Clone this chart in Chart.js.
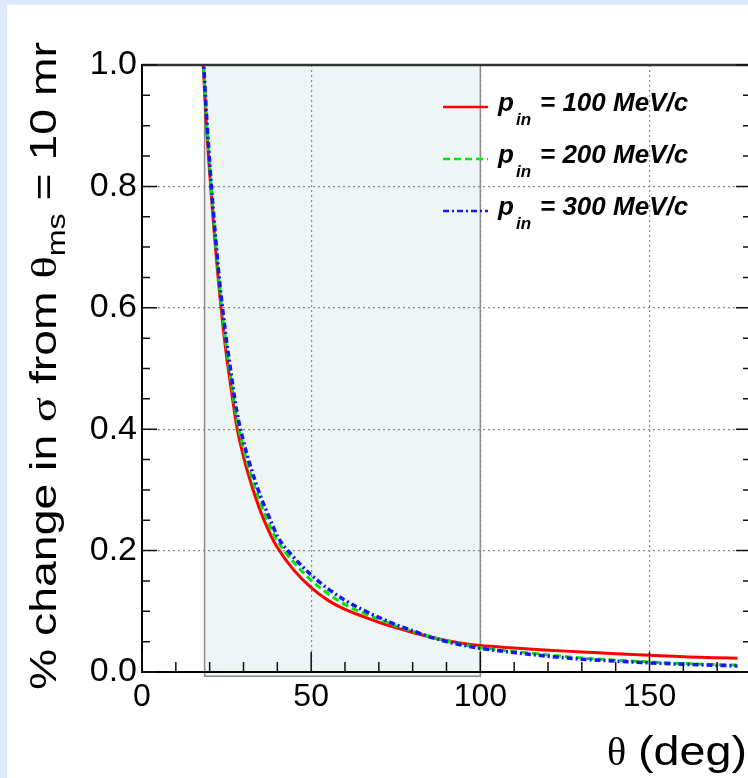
<!DOCTYPE html>
<html><head><meta charset="utf-8">
<script src="https://cdn.jsdelivr.net/npm/chart.js@4.4.0/dist/chart.umd.min.js"></script>
<style>
html,body{margin:0;padding:0;overflow:hidden;background:#dceafb;width:748px;height:778px;}
#panel{position:absolute;left:7px;top:5px;width:760px;height:800px;background:#fff;}
#wrap{position:absolute;left:0;top:0;width:760px;height:778px;}
</style></head><body>
<div id="panel"></div>
<div id="wrap"><canvas id="c" width="760" height="778"></canvas></div>
<script>
// ---- data ----
const theta = [17,18,19,20,21,22,23,24,25,26,28,30,32,35,38,40,45,50,55,60,65,70,75,80,85,90,95,100,110,120,130,140,150,160,170,176];
const sigma100 = [1.12,1.01,0.905,0.823,0.748,0.68,0.62,0.566,0.52,0.48,0.405,0.355,0.315,0.265,0.226,0.205,0.167,0.139,0.118,0.103,0.092,0.082,0.073,0.065,0.058,0.052,0.047,0.0435,0.0395,0.036,0.033,0.030,0.0275,0.025,0.0236,0.0228];
const sigma200 = [1.14,1.02,0.918,0.832,0.757,0.69,0.63,0.578,0.533,0.493,0.418,0.368,0.328,0.278,0.238,0.216,0.18,0.151,0.129,0.111,0.098,0.087,0.076,0.067,0.059,0.051,0.045,0.040,0.034,0.028,0.023,0.0195,0.0165,0.014,0.0122,0.0113];
const sigma300 = [1.15,1.03,0.925,0.84,0.765,0.70,0.64,0.59,0.545,0.505,0.43,0.38,0.34,0.29,0.25,0.224,0.188,0.16,0.137,0.118,0.103,0.090,0.078,0.068,0.058,0.050,0.044,0.039,0.032,0.026,0.021,0.018,0.015,0.0127,0.011,0.010];
const momenta = ['100','200','300'];
const xTicks = [0,50,100,150];
const yTicks = [0,0.2,0.4,0.6,0.8,1.0];
const yTickLabels = ['0.0','0.2','0.4','0.6','0.8','1.0'];
const xMinorStep = 10;
const yMinorStep = 0.05;
const acceptance = [18.5, 100];   // shaded theta range
const acceptanceLow = -0.007;

const SANS = "'Liberation Sans', Arial, Helvetica, sans-serif";
const SERIF = "'Liberation Serif', 'DejaVu Serif', serif";

function pts(arr){ return theta.map((t,i)=>({x:t,y:arr[i]})); }

function drawRich(ctx, pieces, x, y){
  let cx = x;
  for (const p of pieces){
    ctx.font = p.font;
    ctx.fillText(p.text, cx, y + (p.dy||0));
    cx += ctx.measureText(p.text).width + (p.gap||0);
  }
  return cx - x;
}
function measureRich(ctx, pieces){
  let w = 0;
  for (const p of pieces){ ctx.font = p.font; w += ctx.measureText(p.text).width + (p.gap||0); }
  return w;
}

const decor = {
  id:'decor',
  beforeDraw(chart){
    const {ctx, scales:{x, y}} = chart;
    const x1 = x.getPixelForValue(acceptance[0]), x2 = x.getPixelForValue(acceptance[1]);
    const y1 = y.getPixelForValue(1.0), y2 = y.getPixelForValue(acceptanceLow);
    ctx.save();
    ctx.fillStyle = '#edf5f5';
    ctx.fillRect(x1, y1, x2-x1, y2-y1);
    ctx.strokeStyle = '#8c8c8c';
    ctx.lineWidth = 1.5;
    ctx.strokeRect(x1, y1, x2-x1, y2-y1);
    ctx.restore();
  },
  afterDraw(chart){
    const {ctx, chartArea:a, scales:{x, y}} = chart;
    ctx.save();
    // frame top/right
    ctx.strokeStyle = '#333'; ctx.lineWidth = 2.5;
    ctx.beginPath();
    ctx.moveTo(a.left, a.top); ctx.lineTo(a.right, a.top); ctx.lineTo(a.right, a.bottom);
    ctx.stroke();
    // inward ticks
    ctx.lineWidth = 1.5; ctx.strokeStyle = '#111';
    ctx.beginPath();
    for (let v = 0; v <= 180.001; v += xMinorStep){
      const px = x.getPixelForValue(v);
      const major = xTicks.includes(Math.round(v));
      ctx.moveTo(px, a.bottom); ctx.lineTo(px, a.bottom - (major ? 20 : 10));
    }
    for (let i = 0; i <= 20; i++){
      const v = i*yMinorStep;
      const py = y.getPixelForValue(v);
      const major = (i % 4) === 0;
      const len = major ? 15 : 8;
      ctx.moveTo(a.left, py); ctx.lineTo(a.left + len, py);
      ctx.moveTo(a.right, py); ctx.lineTo(a.right - len, py);
    }
    ctx.stroke();

    // legend
    ctx.fillStyle = '#000';
    ctx.textBaseline = 'alphabetic';
    chart.data.datasets.forEach((ds, i) => {
      const ly = 107 + i*52;
      ctx.save();
      ctx.strokeStyle = ds.borderColor; ctx.lineWidth = 2.5;
      ctx.setLineDash(ds.borderDash || []);
      ctx.beginPath(); ctx.moveTo(443, ly); ctx.lineTo(488, ly); ctx.stroke();
      ctx.restore();
      ctx.font = "italic bold 26px " + SANS;
      ctx.fillText('p', 498, ly + 4);
      ctx.font = "italic bold 17px " + SANS;
      ctx.fillText('in', 516, ly + 18);
      ctx.font = "italic bold 26px " + SANS;
      ctx.fillText('= ' + momenta[i] + ' MeV/c', 540, ly + 4);
    });

    // x title
    ctx.font = "40px " + SERIF;
    ctx.fillText('θ', 607, 765);
    ctx.save();
    ctx.font = "40px " + SANS;
    const dw = ctx.measureText('(deg)').width;
    ctx.translate(638, 765);
    ctx.scale((747-638)/dw, 1);
    ctx.fillText('(deg)', 0, 0);
    ctx.restore();

    // y title
    const F = 36;
    const pieces = [
      {text:'% change in ', font: F+'px '+SANS},
      {text:'σ', font: F+'px '+SERIF},
      {text:' from ', font: F+'px '+SANS},
      {text:'θ', font: F+'px '+SERIF},
      {text:'ms', font: Math.round(F*0.7)+'px '+SANS, dy: 9},
      {text:' = 10 mr', font: F+'px '+SANS}
    ];
    ctx.translate(56, 690);
    ctx.rotate(-Math.PI/2);
    const w = measureRich(ctx, pieces);
    ctx.scale((690-42)/w, 1);
    drawRich(ctx, pieces, 0, 0);
    ctx.restore();
  }
};

new Chart(document.getElementById('c'), {
  type:'line',
  data:{
    datasets:[
      {label:'p_in = 100 MeV/c', data:pts(sigma100), borderColor:'rgb(255,0,0)', borderWidth:3, order:3},
      {label:'p_in = 200 MeV/c', data:pts(sigma200), borderColor:'rgb(0,230,0)', borderWidth:3, borderDash:[7,4], order:2},
      {label:'p_in = 300 MeV/c', data:pts(sigma300), borderColor:'rgb(20,20,255)', borderWidth:3.5, borderDash:[6,3,2,3], order:1}
    ]
  },
  options:{
    responsive:false, animation:false,
    layout:{padding:{top:65, right:9, left:0, bottom:0}},
    elements:{point:{radius:0}, line:{tension:0.35, cubicInterpolationMode:'monotone'}},
    plugins:{legend:{display:false}, tooltip:{enabled:false}},
    scales:{
      x:{type:'linear', min:0, max:180,
        afterBuildTicks: s => { s.ticks = xTicks.map(v=>({value:v})); },
        afterFit: s => { s.height = 106; },
        ticks:{font:{family:SANS, size:32}, color:'#000', padding:6, maxRotation:0, autoSkip:false, callback: v => String(v)},
        grid:{drawTicks:false, lineWidth:1.2, color: c => (c.tick && c.tick.value===0) ? 'rgba(0,0,0,0)' : '#8a8a8a'},
        border:{display:true, color:'#000', width:2, dash:[2,3]}
      },
      y:{type:'linear', min:0, max:1,
        afterBuildTicks: s => { s.ticks = yTicks.map(v=>({value:v})); },
        afterFit: s => { s.width = 142; },
        ticks:{font:{family:SANS, size:34}, color:'#000', padding:5, autoSkip:false, callback: (v,i) => yTickLabels[i]},
        grid:{drawTicks:false, lineWidth:1.2, color: c => (c.tick && (c.tick.value===0 || c.tick.value===1)) ? 'rgba(0,0,0,0)' : '#8a8a8a'},
        border:{display:true, color:'#000', width:2, dash:[2,3]}
      }
    }
  },
  plugins:[decor]
});
</script>
</body></html>
